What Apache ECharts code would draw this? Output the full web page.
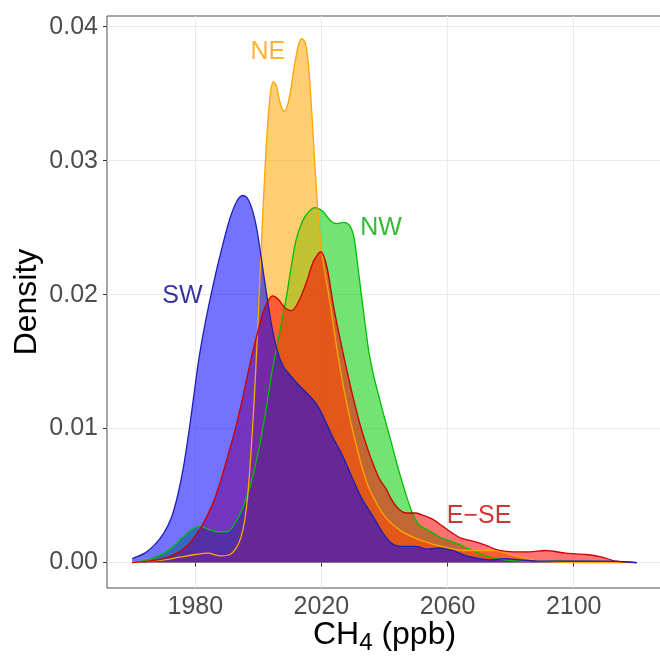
<!DOCTYPE html>
<html>
<head>
<meta charset="utf-8">
<script src="https://cdn.jsdelivr.net/npm/echarts@6/dist/echarts.min.js"></script>
<style>
html, body { margin: 0; padding: 0; background: #fff; }
#chart { width: 660px; height: 658px; }
</style>
</head>
<body>
<div id="chart"></div>
<script>
// CH4 density per wind sector as [ppb, density]
const nw = [
  [1960, 0], [1965, 0.0002], [1970, 0.0007], [1973, 0.0012], [1976, 0.0019], [1979, 0.0025],
  [1981.5, 0.0027], [1984, 0.0025], [1987, 0.0023], [1990, 0.0023], [1993, 0.0031], [1996, 0.0047],
  [1999, 0.0072], [2002, 0.0108], [2004.5, 0.0145], [2007, 0.0175], [2009, 0.0200], [2010.5, 0.0222],
  [2012, 0.0241], [2014, 0.0255], [2016, 0.0262], [2018, 0.0265], [2020.5, 0.0262], [2023, 0.0255],
  [2025, 0.0253], [2027, 0.0254], [2028.8, 0.0252], [2030.2, 0.0244], [2031.3, 0.0226], [2032.5, 0.0203],
  [2033.8, 0.0179], [2035, 0.0158], [2036.5, 0.0140], [2038, 0.0126], [2040, 0.0108], [2042, 0.0091],
  [2044, 0.0073], [2046, 0.0057], [2048.5, 0.0039], [2051, 0.0028], [2054, 0.0024], [2057.5, 0.0019],
  [2062, 0.0015], [2067, 0.0010], [2072, 0.0005], [2078, 0.0002], [2085, 0.0001], [2100, 0.0001], [2120, 0]
]
const ne = [
  [1960, 0], [1965, 0.0001], [1970, 0.0002], [1975, 0.0004], [1980, 0.0006], [1984, 0.0007],
  [1988, 0.0005], [1991, 0.0006], [1993, 0.0011], [1994.5, 0.0019], [1995.7, 0.0032], [1996.7, 0.0052],
  [1997.6, 0.0080], [1998.5, 0.0114], [1999.3, 0.0150], [2000, 0.0186], [2000.7, 0.0224], [2001.6, 0.0270],
  [2002.7, 0.0318], [2003.8, 0.0350], [2004.8, 0.0359], [2005.7, 0.0356], [2006.6, 0.0346], [2007.5, 0.0339],
  [2008.3, 0.0337], [2009.2, 0.0341], [2010.2, 0.0352], [2011.5, 0.0372], [2012.7, 0.0386], [2013.7, 0.0391],
  [2014.7, 0.0389], [2015.5, 0.0380], [2016.4, 0.0356], [2017.4, 0.0318], [2018.3, 0.0282], [2019.2, 0.0253],
  [2020.2, 0.0230], [2021.3, 0.0214], [2023, 0.0190], [2025, 0.0158], [2027, 0.0131], [2029, 0.0108],
  [2031, 0.0088], [2033, 0.0070], [2035, 0.0056], [2038, 0.0042], [2041, 0.0032], [2045, 0.0024],
  [2050, 0.0018], [2055, 0.0014], [2060, 0.0011], [2065, 0.0009], [2070, 0.0009], [2075, 0.0009],
  [2080, 0.0006], [2085, 0.0003], [2090, 0.0001], [2100, 0], [2120, 0]
]
const ese = [
  [1960, 0], [1965, 0.0001], [1970, 0.0003], [1975, 0.0008], [1978, 0.0014], [1980, 0.0020],
  [1982, 0.0027], [1985, 0.0041], [1987.5, 0.0057], [1990, 0.0077], [1992.5, 0.0098], [1995, 0.0123],
  [1997.5, 0.0150], [2000, 0.0174], [2002, 0.0190], [2004.5, 0.0199], [2006.5, 0.0196], [2008.5, 0.0190],
  [2010.5, 0.0188], [2013, 0.0196], [2015.5, 0.0211], [2017.5, 0.0225], [2019.8, 0.0232], [2021.7, 0.0221],
  [2023.8, 0.0192], [2026, 0.0166], [2028.5, 0.0139], [2030.5, 0.0119], [2032.5, 0.0101], [2034.5, 0.0086],
  [2036.5, 0.0073], [2038.5, 0.0062], [2040.5, 0.0055], [2042.5, 0.0046], [2044.5, 0.0040], [2047, 0.0037],
  [2050, 0.0037], [2052.5, 0.0035], [2055.5, 0.0032], [2058.5, 0.0027], [2061.5, 0.0022], [2064.5, 0.0018],
  [2068, 0.0016], [2072, 0.0013], [2076.5, 0.0009], [2081, 0.0008], [2086, 0.0008], [2091, 0.0009],
  [2097.5, 0.0007], [2104, 0.0006], [2109, 0.0004], [2113.5, 0.0001], [2120, 0]
]
const sw = [
  [1960, 0.0003], [1964, 0.0007], [1967, 0.0013], [1970, 0.0022], [1972.5, 0.0034], [1974.5, 0.0051],
  [1976.3, 0.0072], [1978, 0.0098], [1979.5, 0.0124], [1981, 0.0150], [1983, 0.0177], [1985, 0.0200],
  [1987, 0.0221], [1989, 0.0240], [1991, 0.0257], [1993, 0.0269], [1995, 0.0274], [1996.5, 0.0272],
  [1998, 0.0264], [1999.5, 0.0249], [2001, 0.0226], [2002.7, 0.0199], [2004.3, 0.0176], [2006, 0.0158],
  [2008, 0.0146], [2010, 0.0140], [2013, 0.0132], [2016, 0.0125], [2018.5, 0.0118], [2021, 0.0107],
  [2023.5, 0.0094], [2026, 0.0083], [2028, 0.0073], [2030, 0.0062], [2033, 0.0047], [2036.5, 0.0034],
  [2039.5, 0.0022], [2042.5, 0.0014], [2046, 0.0012], [2050, 0.0012], [2053.5, 0.0010], [2057.5, 0.0011],
  [2061.5, 0.0009], [2066, 0.0005], [2070, 0.0003], [2074, 0.0002], [2078, 0.0003], [2083, 0.0002],
  [2090, 0.0001], [2100, 0.0001], [2110, 0.0001], [2120, 0]
]

const xTicks = [1980, 2020, 2060, 2100]
const yTicks = [0, 0.01, 0.02, 0.03, 0.04]

// sector names written inside the panel, and where they sit (ppb, density)
const labelNames = ['NE', 'NW', 'SW', 'E\u2212SE']
const labelAt = [[2003, 0.0381], [2038.9, 0.0250], [1975.9, 0.0199], [2070, 0.0035]]
const labelColors = ['#ffa000', '#00aa00', '#00008b', '#c80000']

const FONT = '"Liberation Sans", Arial, sans-serif'

const densitySeries = (name, data, fill, line) => ({
  name,
  type: 'line',
  data,
  smooth: 0.3,
  symbol: 'none',
  lineStyle: { color: line, width: 1.3 },
  areaStyle: { color: fill, opacity: 0.55 },
  emphasis: { disabled: true }
})

const chart = echarts.init(document.getElementById('chart'))
chart.setOption({
  animation: false,
  grid: {
    left: 107, right: -2, top: 16, bottom: 70,
    show: true, borderColor: '#4d4d4d', borderWidth: 1,
    outerBoundsMode: 'none'
  },
  xAxis: {
    type: 'value',
    min: 1952, max: 2128,
    axisLine: { show: false },
    axisTick: { show: true, length: 4, customValues: xTicks, lineStyle: { color: '#333' } },
    axisLabel: {
      customValues: xTicks, fontSize: 25, color: '#4d4d4d', margin: 7, fontFamily: FONT,
      formatter: (v) => String(v)
    },
    splitLine: { show: true, lineStyle: { color: '#ebebeb', width: 1 } },
    name: '{a|CH}{s|4}{a| (ppb)}',
    nameLocation: 'middle',
    nameGap: 27,
    nameMoveOverlap: false,
    nameTextStyle: {
      color: '#000',
      fontFamily: FONT,
      rich: {
        a: { fontSize: 32, lineHeight: 40, color: '#000', fontFamily: FONT },
        s: { fontSize: 24, lineHeight: 14, verticalAlign: 'bottom', color: '#000', fontFamily: FONT }
      }
    }
  },
  yAxis: {
    type: 'value',
    min: -0.0019, max: 0.0408,
    axisLine: { show: false },
    axisTick: { show: true, length: 4, customValues: yTicks, lineStyle: { color: '#333' } },
    axisLabel: {
      customValues: yTicks, fontSize: 25, color: '#4d4d4d', margin: 9, fontFamily: FONT,
      formatter: (v) => v.toFixed(2)
    },
    splitLine: { show: true, lineStyle: { color: '#ebebeb', width: 1 } },
    name: 'Density',
    nameLocation: 'middle',
    nameRotate: 90,
    nameGap: 64,
    nameMoveOverlap: false,
    nameTextStyle: { fontSize: 32, color: '#000', fontFamily: FONT }
  },
  series: [
    densitySeries('NW', nw, '#00cd00', '#00bf00'),
    densitySeries('NE', ne, '#ffa500', '#ffa500'),
    densitySeries('E-SE', ese, '#ff0000', '#cd0000'),
    densitySeries('SW', sw, '#0000ff', '#1f1fb4'),
    {
      type: 'scatter',
      symbolSize: 0,
      silent: true,
      z: 5,
      data: labelNames.map((n, i) => ({
        value: labelAt[i],
        label: { formatter: n, color: labelColors[i] }
      })),
      label: { show: true, position: 'inside', fontSize: 25, fontFamily: FONT }
    }
  ]
})
</script>
</body>
</html>
